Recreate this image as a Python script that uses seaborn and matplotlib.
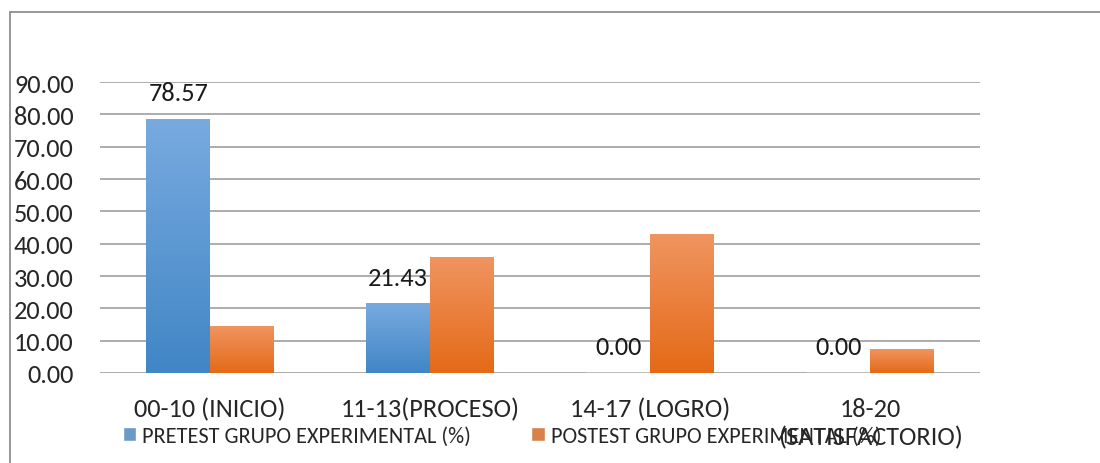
import matplotlib
matplotlib.use('Agg')
import matplotlib.pyplot as plt
import seaborn as sns
import pandas as pd
import numpy as np

categories = ['00-10 (INICIO)', '11-13(PROCESO)', '14-17 (LOGRO)', '18-20\n(SATISFACTORIO)']
series_names = ['PRETEST GRUPO EXPERIMENTAL (%)', 'POSTEST GRUPO EXPERIMENTAL (%)']
pretest = [78.57, 21.43, 0.00, 0.00]
postest = [14.29, 35.71, 42.86, 7.14]
yticks = [0, 10, 20, 30, 40, 50, 60, 70, 80, 90]

sns.set_style('white')
plt.rcParams['font.family'] = ['Carlito', 'DejaVu Sans']

df = pd.DataFrame({
    'cat': categories * 2,
    'serie': [series_names[0]] * 4 + [series_names[1]] * 4,
    'valor': pretest + postest,
})

fig = plt.figure(figsize=(11, 4.64), dpi=100)
ax = fig.add_axes([0.091, 0.194, 0.8, 0.627])

colors = ['#5b9bd5', '#ed7d31']
sns.barplot(data=df, x='cat', y='valor', hue='serie', palette=colors,
            width=0.58, ax=ax, zorder=3, legend=True)

# gradient fill like the original
grads = {'#5b9bd5': ('#78aadf', '#4186c6'), '#ed7d31': ('#f09460', '#e46a17')}
for cont, c in zip(ax.containers, colors):
    top, bot = grads[c]
    cmap = matplotlib.colors.LinearSegmentedColormap.from_list('g', [bot, top])
    for p in cont.patches:
        x0, y0 = p.get_x(), p.get_y()
        w, h = p.get_width(), p.get_height()
        if h <= 0:
            continue
        ax.imshow(np.linspace(0, 1, 100).reshape(-1, 1), cmap=cmap, aspect='auto',
                  origin='lower', extent=[x0, x0 + w, y0, y0 + h], zorder=3)
        p.set_facecolor('none')
        p.set_edgecolor('none')

# data labels for pretest
for i, v in enumerate(pretest):
    ax.annotate(f'{v:.2f}', (i - 0.145, v), xytext=(0, 19), textcoords='offset points',
                ha='center', va='center', fontsize=19, color='#1a1a1a', zorder=5)

ax.set_xlim(-0.5, 3.5)
ax.set_ylim(0, 90)
ax.set_yticks(yticks)
ax.set_yticklabels([f'{t:.2f}' for t in yticks], fontsize=19)
ax.tick_params(axis='y', pad=19, length=0)
ax.tick_params(axis='x', length=0, pad=17)
for lab in ax.get_xticklabels():
    lab.set_verticalalignment('top')
    lab.set_fontsize(19)
    lab.set_linespacing(1.3)
ax.set_xlabel('')
ax.set_ylabel('')
ax.yaxis.grid(True, color='#a6a6a6', linewidth=1.3, zorder=0)
ax.set_axisbelow(True)
for s in ax.spines.values():
    s.set_visible(False)

h, l = ax.get_legend_handles_labels()
leg = ax.legend(h, l, loc='center left', bbox_to_anchor=(0.026, -0.215), ncol=2, frameon=False,
                fontsize=16, handlelength=0.6, handleheight=0.6, handletextpad=0.27,
                columnspacing=2.7, borderaxespad=0, borderpad=0)

# outer chart frame (top and left edges visible)
fig.add_artist(plt.Line2D([0.0095, 1.0], [0.972, 0.972], color='#8f8f8f', lw=1.3,
                          transform=fig.transFigure))
fig.add_artist(plt.Line2D([0.0095, 0.0095], [0.0, 0.972], color='#8f8f8f', lw=1.3,
                          transform=fig.transFigure))

fig.savefig('out.png', dpi=100)
